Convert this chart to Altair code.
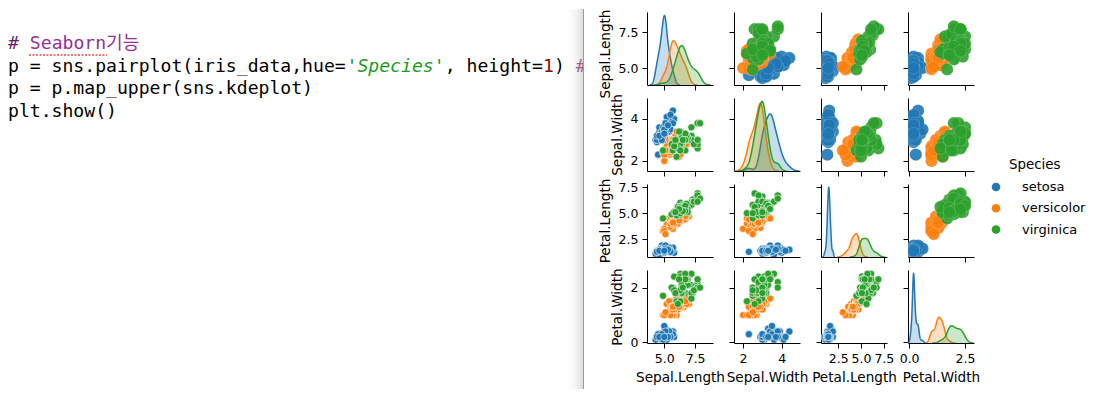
import altair as alt
import numpy as np
import pandas as pd

# ---------------- data (iris) ----------------
species_names = ["setosa", "versicolor", "virginica"]
species_colors = ["#1f77b4", "#ff7f0e", "#2ca02c"]
var_keys = ["SL", "SW", "PL", "PW"]
var_titles = ["Sepal.Length", "Sepal.Width", "Petal.Length", "Petal.Width"]

sepal_length = [
    5.1, 4.9, 4.7, 4.6, 5.0, 5.4, 4.6, 5.0, 4.4, 4.9, 5.4, 4.8, 4.8, 4.3, 5.8, 5.7, 5.4, 5.1, 5.7, 5.1,
    5.4, 5.1, 4.6, 5.1, 4.8, 5.0, 5.0, 5.2, 5.2, 4.7, 4.8, 5.4, 5.2, 5.5, 4.9, 5.0, 5.5, 4.9, 4.4, 5.1,
    5.0, 4.5, 4.4, 5.0, 5.1, 4.8, 5.1, 4.6, 5.3, 5.0,
    7.0, 6.4, 6.9, 5.5, 6.5, 5.7, 6.3, 4.9, 6.6, 5.2, 5.0, 5.9, 6.0, 6.1, 5.6, 6.7, 5.6, 5.8, 6.2, 5.6,
    5.9, 6.1, 6.3, 6.1, 6.4, 6.6, 6.8, 6.7, 6.0, 5.7, 5.5, 5.5, 5.8, 6.0, 5.4, 6.0, 6.7, 6.3, 5.6, 5.5,
    5.5, 6.1, 5.8, 5.0, 5.6, 5.7, 5.7, 6.2, 5.1, 5.7,
    6.3, 5.8, 7.1, 6.3, 6.5, 7.6, 4.9, 7.3, 6.7, 7.2, 6.5, 6.4, 6.8, 5.7, 5.8, 6.4, 6.5, 7.7, 7.7, 6.0,
    6.9, 5.6, 7.7, 6.3, 6.7, 7.2, 6.2, 6.1, 6.4, 7.2, 7.4, 7.9, 6.4, 6.3, 6.1, 7.7, 6.3, 6.4, 6.0, 6.9,
    6.7, 6.9, 5.8, 6.8, 6.7, 6.7, 6.3, 6.5, 6.2, 5.9,
]
sepal_width = [
    3.5, 3.0, 3.2, 3.1, 3.6, 3.9, 3.4, 3.4, 2.9, 3.1, 3.7, 3.4, 3.0, 3.0, 4.0, 4.4, 3.9, 3.5, 3.8, 3.8,
    3.4, 3.7, 3.6, 3.3, 3.4, 3.0, 3.4, 3.5, 3.4, 3.2, 3.1, 3.4, 4.1, 4.2, 3.1, 3.2, 3.5, 3.6, 3.0, 3.4,
    3.5, 2.3, 3.2, 3.5, 3.8, 3.0, 3.8, 3.2, 3.7, 3.3,
    3.2, 3.2, 3.1, 2.3, 2.8, 2.8, 3.3, 2.4, 2.9, 2.7, 2.0, 3.0, 2.2, 2.9, 2.9, 3.1, 3.0, 2.7, 2.2, 2.5,
    3.2, 2.8, 2.5, 2.8, 2.9, 3.0, 2.8, 3.0, 2.9, 2.6, 2.4, 2.4, 2.7, 2.7, 3.0, 3.4, 3.1, 2.3, 3.0, 2.5,
    2.6, 3.0, 2.6, 2.3, 2.7, 3.0, 2.9, 2.9, 2.5, 2.8,
    3.3, 2.7, 3.0, 2.9, 3.0, 3.0, 2.5, 2.9, 2.5, 3.6, 3.2, 2.7, 3.0, 2.5, 2.8, 3.2, 3.0, 3.8, 2.6, 2.2,
    3.2, 2.8, 2.8, 2.7, 3.3, 3.2, 2.8, 3.0, 2.8, 3.0, 2.8, 3.8, 2.8, 2.8, 2.6, 3.0, 3.4, 3.1, 3.0, 3.1,
    3.1, 3.1, 2.7, 3.2, 3.3, 3.0, 2.5, 3.0, 3.4, 3.0,
]
petal_length = [
    1.4, 1.4, 1.3, 1.5, 1.4, 1.7, 1.4, 1.5, 1.4, 1.5, 1.5, 1.6, 1.4, 1.1, 1.2, 1.5, 1.3, 1.4, 1.7, 1.5,
    1.7, 1.5, 1.0, 1.7, 1.9, 1.6, 1.6, 1.5, 1.4, 1.6, 1.6, 1.5, 1.5, 1.4, 1.5, 1.2, 1.3, 1.4, 1.3, 1.5,
    1.3, 1.3, 1.3, 1.6, 1.9, 1.4, 1.6, 1.4, 1.5, 1.4,
    4.7, 4.5, 4.9, 4.0, 4.6, 4.5, 4.7, 3.3, 4.6, 3.9, 3.5, 4.2, 4.0, 4.7, 3.6, 4.4, 4.5, 4.1, 4.5, 3.9,
    4.8, 4.0, 4.9, 4.7, 4.3, 4.4, 4.8, 5.0, 4.5, 3.5, 3.8, 3.7, 3.9, 5.1, 4.5, 4.5, 4.7, 4.4, 4.1, 4.0,
    4.4, 4.6, 4.0, 3.3, 4.2, 4.2, 4.2, 4.3, 3.0, 4.1,
    6.0, 5.1, 5.9, 5.6, 5.8, 6.6, 4.5, 6.3, 5.8, 6.1, 5.1, 5.3, 5.5, 5.0, 5.1, 5.3, 5.5, 6.7, 6.9, 5.0,
    5.7, 4.9, 6.7, 4.9, 5.7, 6.0, 4.8, 4.9, 5.6, 5.8, 6.1, 6.4, 5.6, 5.1, 5.6, 6.1, 5.6, 5.5, 4.8, 5.4,
    5.6, 5.1, 5.1, 5.9, 5.7, 5.2, 5.0, 5.2, 5.4, 5.1,
]
petal_width = [
    0.2, 0.2, 0.2, 0.2, 0.2, 0.4, 0.3, 0.2, 0.2, 0.1, 0.2, 0.2, 0.1, 0.1, 0.2, 0.4, 0.4, 0.3, 0.3, 0.3,
    0.2, 0.4, 0.2, 0.5, 0.2, 0.2, 0.4, 0.2, 0.2, 0.2, 0.2, 0.4, 0.1, 0.2, 0.2, 0.2, 0.2, 0.1, 0.2, 0.2,
    0.3, 0.3, 0.2, 0.6, 0.4, 0.3, 0.2, 0.2, 0.2, 0.2,
    1.4, 1.5, 1.5, 1.3, 1.5, 1.3, 1.6, 1.0, 1.3, 1.4, 1.0, 1.5, 1.0, 1.4, 1.3, 1.4, 1.5, 1.0, 1.5, 1.1,
    1.8, 1.3, 1.5, 1.2, 1.3, 1.4, 1.4, 1.7, 1.5, 1.0, 1.1, 1.0, 1.2, 1.6, 1.5, 1.6, 1.5, 1.3, 1.3, 1.3,
    1.2, 1.4, 1.2, 1.0, 1.3, 1.2, 1.3, 1.3, 1.1, 1.3,
    2.5, 1.9, 2.1, 1.8, 2.2, 2.1, 1.7, 1.8, 1.8, 2.5, 2.0, 1.9, 2.1, 2.0, 2.4, 2.3, 1.8, 2.2, 2.3, 1.5,
    2.3, 2.0, 2.0, 1.8, 2.1, 1.8, 1.8, 1.8, 2.1, 1.6, 1.9, 2.0, 2.2, 1.5, 1.4, 2.3, 2.4, 1.8, 1.8, 2.1,
    2.4, 2.3, 1.9, 2.3, 2.5, 2.3, 1.9, 2.0, 2.3, 1.8,
]
species = [s for s in species_names for _ in range(50)]

# axis ticks
x_domains = [[3.6, 8.95], [1.53, 4.95], [0.6, 7.85], [-0.05, 2.9]]
y_domains = [[3.82, 8.9], [1.52, 5.0], [0.8, 7.8], [-0.02, 2.64]]
tick_values_x = [[5.0, 7.5], [2, 4], [2.5, 5.0, 7.5], [0.0, 2.5]]
tick_values_y = [[5.0, 7.5], [2, 4], [2.5, 5.0, 7.5], [0, 2]]
fmt_x = [".1f", "d", ".1f", ".1f"]
fmt_y = [".1f", "d", ".1f", "d"]

# code cell text
code_seg_line = [0, 0, 1, 1, 1, 1, 1, 1, 2, 3]
code_seg_col = [0, 2, 0, 31, 40, 49, 50, 52, 0, 0]
code_seg_text = ["#", "Seaborn기능", "p = sns.pairplot(iris_data,hue=", "'Species'", ", height=",
                 "1", ")", "#", "p = p.map_upper(sns.kdeplot)", "plt.show()"]
code_seg_color = ["#6a1b6a", "#962f96", "#000000", "#1c9c1c", "#000000",
                  "#9a0000", "#000000", "#8a1f72", "#000000", "#000000"]
code_seg_italic = [0, 0, 0, 1, 0, 0, 0, 0, 0, 0]

# ---------------- frames ----------------
df = pd.DataFrame({"SL": sepal_length, "SW": sepal_width, "PL": petal_length,
                   "PW": petal_width, "Species": species})
code_df = pd.DataFrame({"line": code_seg_line, "col": code_seg_col, "text": code_seg_text,
                        "color": code_seg_color, "italic": code_seg_italic})
leg_df = pd.DataFrame({"Species": species_names, "idx": [0, 1, 2]})
one_df = pd.DataFrame({"a": [0]})

PW_, PH_ = 66, 73
CODE_W = 618
LEG_W = 90
CW = 10.92

color_enc = alt.Color("Species:N", scale=alt.Scale(domain=species_names, range=species_colors),
                      legend=None)


def make_axis(vals, fmt, show, title, title_y=None):
    if show:
        kw = dict(values=vals, format=fmt, labels=True, title=title, grid=False,
                  labelOverlap=False, labelFlush=False)
        if title_y is not None:
            kw["titleY"] = title_y
        return alt.Axis(**kw)
    return alt.Axis(values=vals, format=fmt, labels=False, title=None, grid=False)


def xenc(field, c, show):
    return alt.X(f"{field}:Q", scale=alt.Scale(domain=x_domains[c], nice=False, zero=False),
                 axis=make_axis(tick_values_x[c], fmt_x[c], show, var_titles[c]))


def yenc(field, r, show):
    ty = 41.5 if r == 0 else None
    return alt.Y(f"{field}:Q", scale=alt.Scale(domain=y_domains[r], nice=False, zero=False),
                 axis=make_axis(tick_values_y[r], fmt_y[r], show, var_titles[r], ty))


def gauss_kde_peak(vals, bw, lo, hi):
    g = np.linspace(lo, hi, 400)
    z = (g[:, None] - vals[None, :]) / bw
    d = np.exp(-0.5 * z ** 2).sum(axis=1) / (len(vals) * bw * np.sqrt(2 * np.pi))
    return float(d.max())


def diag_panel(i):
    v = var_keys[i]
    axis_layer = alt.Chart(df).mark_point(opacity=0, size=1).encode(
        x=xenc(v, i, i == 3), y=yenc(v, i, i == 0))
    specs = []
    peak = 0.0
    for sp in species_names:
        vals = df.loc[df.Species == sp, v].to_numpy(dtype=float)
        bw = float(np.std(vals, ddof=1) * len(vals) ** (-0.2))
        lo, hi = float(vals.min() - 3 * bw), float(vals.max() + 3 * bw)
        peak = max(peak, gauss_kde_peak(vals, bw, lo, hi))
        specs.append((sp, bw, lo, hi))
    ymax = peak * 1.05
    dens = []
    for (sp, bw, lo, hi), col in zip(specs, species_colors):
        base = alt.Chart(df).transform_filter(alt.datum.Species == sp).transform_density(
            v, as_=[v, "density"], bandwidth=bw, extent=[lo, hi], steps=200)
        enc = dict(x=xenc(v, i, i == 3),
                   y=alt.Y("density:Q", scale=alt.Scale(domain=[0, ymax], nice=False, zero=True),
                           axis=None))
        dens.append(base.mark_area(color=col, opacity=0.25, clip=True).encode(**enc))
        dens.append(base.mark_line(color=col, strokeWidth=1.5, clip=True).encode(**enc))
    return alt.layer(axis_layer, alt.layer(*dens)).resolve_scale(y="independent").properties(
        width=PW_, height=PH_)


def lower_panel(r, c):
    return alt.Chart(df).mark_circle(size=52, opacity=1, stroke="white", strokeWidth=0.6,
                                     clip=True).encode(
        x=xenc(var_keys[c], c, r == 3), y=yenc(var_keys[r], r, c == 0), color=color_enc
    ).properties(width=PW_, height=PH_)


def upper_panel(r, c):
    return alt.Chart(df).mark_circle(size=150, opacity=0.9, stroke="white", strokeWidth=0.5,
                                     strokeOpacity=0.35, clip=True).encode(
        x=xenc(var_keys[c], c, r == 3), y=yenc(var_keys[r], r, c == 0), color=color_enc
    ).properties(width=PW_, height=PH_)


def placeholder(w):
    return alt.Chart(one_df).mark_point(opacity=0, size=1).encode(
        x=alt.value(20), y=alt.value(20)).properties(width=w, height=PH_)


# ---------------- code cell ----------------
code_x = alt.X("col:Q", scale=alt.Scale(domain=[0, 53], range=[0, 53 * CW]), axis=None)
code_y = alt.Y("line:Q", scale=alt.Scale(domain=[0, 3], range=[32, 99.5]), axis=None)
code_normal = alt.Chart(code_df).transform_filter("datum.italic == 0").mark_text(
    align="left", baseline="middle", font="DejaVu Sans Mono, Noto Sans CJK KR", fontSize=18.1
).encode(x=code_x, y=code_y, text="text:N", color=alt.Color("color:N", scale=None))
code_italic = alt.Chart(code_df).transform_filter("datum.italic == 1").mark_text(
    align="left", baseline="middle", font="DejaVu Sans Mono", fontSize=18.1, fontStyle="italic"
).encode(x=code_x, y=code_y, text="text:N", color=alt.Color("color:N", scale=None))
squiggle = alt.Chart(one_df).mark_rule(color="#e04a4a", strokeWidth=1.4,
                                       strokeDash=[2, 1.5]).encode(
    x=alt.value(21), x2=alt.value(99), y=alt.value(43))
shadow = alt.Chart(one_df).mark_rect(
    fill=alt.LinearGradient(gradient="linear",
                            stops=[alt.GradientStop(color="rgba(255,255,255,0)", offset=0),
                                   alt.GradientStop(color="rgba(180,180,180,0.45)", offset=1)],
                            x1=0, x2=1, y1=0, y2=0)
).encode(x=alt.value(557), x2=alt.value(575), y=alt.value(-3), y2=alt.value(377))
cover = alt.Chart(one_df).mark_rect(fill="white").encode(
    x=alt.value(576), x2=alt.value(640), y=alt.value(-3), y2=alt.value(377))
sep = alt.Chart(one_df).mark_rule(color="#9a9a9a", strokeWidth=1).encode(
    x=alt.value(575.5), y=alt.value(-3), y2=alt.value(377))
code_chart = alt.layer(code_normal, code_italic, squiggle, shadow, cover, sep).properties(
    width=CODE_W, height=PH_)

# ---------------- legend ----------------
leg_y = alt.Y("idx:Q", scale=alt.Scale(domain=[0, 2], range=[175, 217.5]), axis=None)
leg_pts = alt.Chart(leg_df).mark_circle(size=75, opacity=1).encode(
    x=alt.value(1), y=leg_y, color=color_enc)
leg_txt = alt.Chart(leg_df).mark_text(align="left", baseline="middle", font="DejaVu Sans",
                                      fontSize=13, color="black").encode(
    x=alt.value(27), y=leg_y, text="Species:N")
leg_title = alt.Chart(one_df).mark_text(text="Species", align="left", baseline="middle",
                                        font="DejaVu Sans", fontSize=13.4, color="black").encode(
    x=alt.value(14), y=alt.value(153))
legend_chart = alt.layer(leg_pts, leg_txt, leg_title).properties(width=LEG_W, height=PH_)

# ---------------- assemble ----------------
cells = []
for r in range(4):
    cells.append(code_chart if r == 0 else placeholder(CODE_W))
    for c in range(4):
        if r == c:
            cells.append(diag_panel(r))
        elif r > c:
            cells.append(lower_panel(r, c))
        else:
            cells.append(upper_panel(r, c))
    cells.append(legend_chart if r == 0 else placeholder(LEG_W))

chart = alt.ConcatChart(
    concat=cells, columns=6, spacing={"row": 13, "column": 21}, bounds="flush", align="each"
).properties(padding=0, background="white").configure_view(stroke=None).configure_axis(
    domainColor="black", domainWidth=1, tickColor="black", tickWidth=1, tickSize=5,
    labelColor="black", labelFont="DejaVu Sans", labelFontSize=12.5, labelPadding=4,
    titleColor="black", titleFont="DejaVu Sans", titleFontSize=13.6, titleFontWeight="normal",
    titlePadding=6, grid=False
)

chart.save("out.html", embed_options={"renderer": "svg", "actions": False})
